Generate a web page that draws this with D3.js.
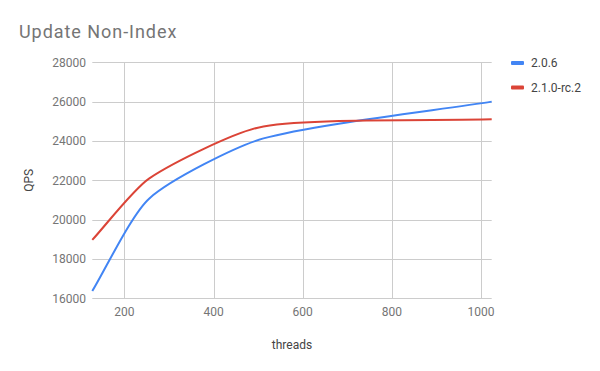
<!DOCTYPE html>
<html><head><meta charset="utf-8">
<script src="https://cdn.jsdelivr.net/npm/d3@7"></script>
<style>body{margin:0;background:#fff;} text{font-family:Roboto,Arial,sans-serif;}</style>
</head><body>
<svg id="c" width="600" height="371"></svg>
<script>
const threads = [128, 256, 512, 1024];
const seriesNames = ["2.0.6", "2.1.0-rc.2"];
const qps_206 = [16370, 21080, 24130, 26000];
const qps_210rc2 = [18970, 22100, 24740, 25100];
const yTicks = [16000, 18000, 20000, 22000, 24000, 26000, 28000];
const xTicks = [200, 400, 600, 800, 1000];
const colors = ["#4285F4", "#DB4437"];

// Gentle smoothing curve (control points along neighbour direction, scaled by segment length)
function smoothCurve(context) {
  const K = 0.22;
  let pts = [];
  return {
    areaStart() {}, areaEnd() {},
    lineStart() { pts = []; },
    point(x, y) { pts.push([+x, +y]); },
    lineEnd() {
      const n = pts.length;
      if (!n) return;
      context.moveTo(pts[0][0], pts[0][1]);
      const dist = (a, b) => Math.hypot(b[0] - a[0], b[1] - a[1]);
      const dir = i => {
        const a = pts[Math.max(0, i - 1)], b = pts[Math.min(n - 1, i + 1)];
        const d = dist(a, b) || 1;
        return [(b[0] - a[0]) / d, (b[1] - a[1]) / d];
      };
      for (let i = 0; i < n - 1; i++) {
        const p = pts[i], q = pts[i + 1], h = dist(p, q);
        const u = dir(i), v = dir(i + 1);
        const c1 = [p[0] + u[0] * K * h, p[1] + u[1] * K * h];
        const c2 = [q[0] - v[0] * K * h, q[1] - v[1] * K * h];
        context.bezierCurveTo(c1[0], c1[1], c2[0], c2[1], q[0], q[1]);
      }
    }
  };
}

const svg = d3.select("#c");
const L = 92.3, R = 491.7, T = 62.3, B = 298.3;
const x = d3.scaleLinear().domain([128, 1024]).range([L, R]);
const y = d3.scaleLinear().domain([16000, 28000]).range([B, T]);

svg.append("text").attr("x", 19).attr("y", 37.5).attr("font-size", 18).attr("letter-spacing", 0.95)
  .attr("fill", "#757575").text("Update Non-Index");

const g = svg.append("g");
g.selectAll(".hg").data(yTicks).join("line")
  .attr("x1", L).attr("x2", R).attr("y1", d => Math.round(y(d)) + 0.5).attr("y2", d => Math.round(y(d)) + 0.5)
  .attr("stroke", "#cccccc").attr("stroke-width", 1);
g.selectAll(".vg").data(xTicks).join("line")
  .attr("y1", T).attr("y2", B).attr("x1", d => Math.round(x(d)) + 0.5).attr("x2", d => Math.round(x(d)) + 0.5)
  .attr("stroke", "#cccccc").attr("stroke-width", 1);

g.selectAll(".yl").data(yTicks).join("text")
  .attr("x", 86).attr("y", d => y(d) + 4.5).attr("text-anchor", "end")
  .attr("font-size", 12).attr("fill", "#757575").text(d => d);
g.selectAll(".xl").data(xTicks).join("text")
  .attr("x", d => x(d)).attr("y", 316).attr("text-anchor", "middle")
  .attr("font-size", 12).attr("fill", "#757575").text(d => d);

svg.append("text").attr("x", (L + R) / 2).attr("y", 349).attr("text-anchor", "middle")
  .attr("font-size", 12).attr("fill", "#444").text("threads");
svg.append("text").attr("transform", `translate(33,${(T + B) / 2}) rotate(-90)`).attr("text-anchor", "middle")
  .attr("font-size", 12).attr("fill", "#444").text("QPS");

const line = d3.line().x(d => x(d[0])).y(d => y(d[1])).curve(smoothCurve);
[qps_206, qps_210rc2].forEach((vals, i) => {
  const pts = threads.map((t, k) => [t, vals[k]]);
  svg.append("path").attr("d", line(pts)).attr("fill", "none")
    .attr("stroke", colors[i]).attr("stroke-width", 2).attr("stroke-linejoin", "round");
});

const lg = svg.append("g");
seriesNames.forEach((n, i) => {
  const yy = 63 + i * 24.5;
  lg.append("rect").attr("x", 511).attr("y", yy - 2).attr("width", 13).attr("height", 4).attr("rx", 1).attr("fill", colors[i]);
  lg.append("text").attr("x", 531).attr("y", yy + 4.3).attr("font-size", 12).attr("fill", "#444").text(n);
});
</script>
</body></html>
